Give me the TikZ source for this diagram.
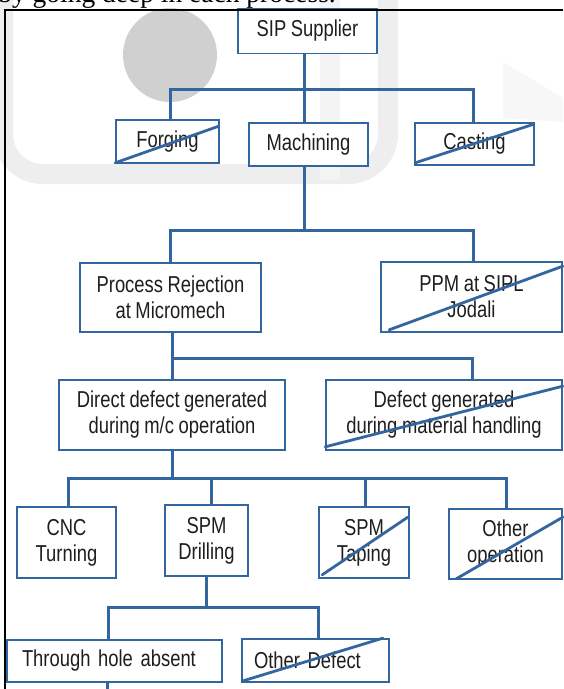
\documentclass[tikz,border=0pt]{standalone}
\usepackage{fontspec}
\setmainfont[FakeStretch=0.8]{Liberation Sans}
\newfontfamily\pageserif{Liberation Serif}
\newcommand\boxfont{\fontsize{23}{26}\selectfont\spaceskip=4.6pt plus 1pt\relax}
\usepackage{xcolor}
\definecolor{chartBlue}{HTML}{33669E}
\definecolor{inkGray}{HTML}{1E1E1E}
\definecolor{markGray}{HTML}{D0D0D0}
\usepackage{tikz}
\usetikzlibrary{calc}
\tikzset{
  box/.style={draw=chartBlue, line width=1.7pt, fill=white, text=inkGray,
    align=center, inner sep=0pt, font=\boxfont},
  link/.style={draw=chartBlue, line width=3pt},
  strike/.style={draw=chartBlue, line width=2.8pt, line cap=round},
  frame/.style={draw=black, line width=1.8pt},
}

\begin{document}
\begin{tikzpicture}[x=1pt, y=-1pt]
  \useasboundingbox (0,0) rectangle (563,689);
  % Watermark and page text
  \begin{scope}
    \clip (0,0) rectangle (563,689);
    \fill[markGray] (170,55) circle[radius=47pt];
    \draw[line width=20pt, gray!13, rounded corners=40pt] (3,-5) -- (3,174) -- (388,174) -- (388,-5);
    \draw[line width=20pt, gray!9] (330,-5) -- (330,180);
    \fill[gray!6] (503,62) -- (563,98) -- (563,122) -- (503,118) -- cycle;
    \node[font=\pageserif\fontsize{27.5}{30}\selectfont, anchor=base east, inner sep=0pt] (pagetext) at (336,2.5) {by going deep in each process.};
  \end{scope}
  % Boxes
  \node[box, minimum width=139pt, minimum height=45pt] (sip) at (307.5,31) {SIP Supplier};
  \node[box, minimum width=103pt, minimum height=43pt] (forging) at (167.5,141.5) {Forging};
  \node[box, minimum width=119pt, minimum height=43pt] (machining) at (308.5,144.5) {Machining};
  \node[box, minimum width=119pt, minimum height=42pt] (casting) at (474.5,144) {Casting};
  \node[box, minimum width=181pt, minimum height=69pt] (prorej) at (170.5,297.5) {Process Rejection\\at Micromech};
  \node[box, minimum width=181pt, minimum height=70pt] (ppm) at (471.5,297) {PPM at SIPL\\Jodali};
  \node[box, minimum width=226pt, minimum height=70pt] (direct) at (172,415) {Direct defect generated\\during m/c operation};
  \node[box, minimum width=236pt, minimum height=70pt] (handling) at (444,415) {Defect generated\\during material handling};
  \node[box, minimum width=99pt, minimum height=71pt] (cnc) at (66.5,542.5) {CNC\\Turning};
  \node[box, minimum width=83pt, minimum height=71pt] (drilling) at (206.5,540.5) {SPM\\Drilling};
  \node[box, minimum width=90pt, minimum height=71pt] (taping) at (364,542.5) {SPM\\Taping};
  \node[box, minimum width=113pt, minimum height=70pt] (otherop) at (505.5,544) {Other\\operation};
  \node[box, minimum height=42pt, text width=185pt, align=left, inner xsep=15pt] (through) at (114.5,661) {Through hole absent};
  \node[box, minimum height=43pt, text width=123pt, align=left, inner xsep=12pt] (otherdef) at (315.5,660.5) {Other Defect};
  % Level 1
  \draw[link] ([xshift=-3.5pt]sip.south) -- ++(0,35) coordinate (j1);
  \draw[link] ([xshift=2.5pt]forging.north) |- (j1) -| ([xshift=-1.5pt]casting.north);
  \draw[link] (j1) -- (j1 |- machining.north);
  % Level 2
  \draw[link] (j1 |- machining.south) -- ++(0,64) coordinate (j2);
  \draw[link] (prorej.north) |- (j2) -| ([xshift=1.5pt]ppm.north);
  % Level 3
  \draw[link] ([xshift=1.5pt]prorej.south) -- ++(0,26) coordinate (j3);
  \draw[link] (j3) -- (j3 |- direct.north);
  \draw[link] (j3) -| ([xshift=28pt]handling.north);
  % Level 4
  \draw[link] (direct.south) -- ++(0,28) coordinate (j4);
  \draw[link] ([xshift=1.5pt]cnc.north) |- (j4) -| ([xshift=0.5pt]otherop.north);
  \draw[link] ([xshift=4.5pt]drilling.north) |- (j4);
  \draw[link] ([xshift=1pt]taping.north) |- (j4);
  % Level 5
  \draw[link] (drilling.south) -- ++(0,31) coordinate (j5);
  \draw[link] ([xshift=-6.5pt]through.north) |- (j5) -| ([xshift=2.5pt]otherdef.north);
  \coordinate (tail) at (107,689);
  \draw[link] (through.south -| tail) -- (tail);
  % Struck out branches
  \foreach \n/\a/\b in {forging/{(0,-1)}/{(-1,7)}, casting/{(1,-3)}/{(-1,2)},
      ppm/{(9,-3)}/{(0,5)}, handling/{(0,-4)}/{(0,7)}, taping/{(4,-4)}/{(-2,11)},
      otherop/{(8,-1)}/{(0,9)}, otherdef/{(2,-2)}/{(-7,0)}} {
    \draw[strike] ([shift={\a}]\n.south west) -- ([shift={\b}]\n.north east);
  }
  % Frame
  \draw[frame] (5,689) -- (5,10) -- (563,10);
\end{tikzpicture}
\end{document}
